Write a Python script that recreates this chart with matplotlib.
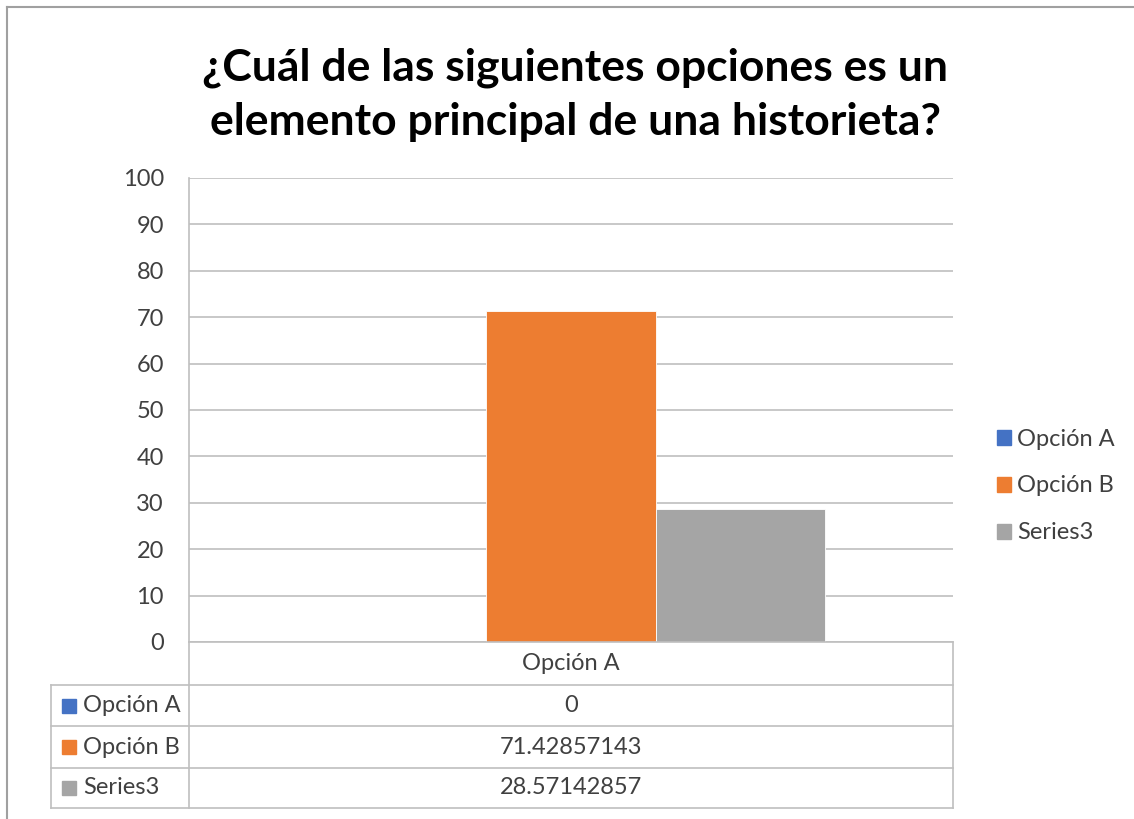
import matplotlib.pyplot as plt
from matplotlib.patches import Patch
import numpy as np

plt.rcParams['font.family'] = ['Lato', 'DejaVu Sans']

# datos del grafico
titulo = "¿Cuál de las siguientes opciones es un\nelemento principal de una historieta?"
categorias = ["Opción A"]
series = ["Opción A", "Opción B", "Series3"]
valores = [[0], [71.42857143], [28.57142857]]
colores = ["#4472C4", "#ED7D31", "#A5A5A5"]
yticks = [0, 10, 20, 30, 40, 50, 60, 70, 80, 90, 100]

W, H = 1134, 819
fig = plt.figure(figsize=(W / 100, H / 100), dpi=100)

def fx(px):
    return px / W

def fy(py):
    return 1 - py / H

ax = fig.add_axes([fx(189), fy(642), fx(953) - fx(189), fy(178) - fy(642)])

x = np.arange(len(categorias))
bw = 1 / 4.52
for i, s in enumerate(series):
    ax.bar(x + (i - 1) * bw, valores[i], bw, color=colores[i],
           edgecolor='white', linewidth=0.6, label=s, zorder=3)

ax.set_xlim(-0.5, len(categorias) - 0.5)
ax.set_ylim(0, 100)
ax.set_yticks(yticks)
ax.set_xticks([])
ax.grid(axis='y', color='#bfbfbf', linewidth=1.2, zorder=0)
for side in ['top', 'right', 'bottom']:
    ax.spines[side].set_visible(False)
ax.spines['left'].set_color('#bfbfbf')
ax.spines['left'].set_linewidth(1.2)
ax.tick_params(axis='y', length=0, pad=18, labelsize=17, labelcolor='#404040')

# tabla de datos debajo del eje
lc = '#bfbfbf'
lw = 1.2
def hline(y, x0, x1):
    fig.add_artist(plt.Line2D([fx(x0), fx(x1)], [fy(y), fy(y)], color=lc, lw=lw))

def vline(x0, y0, y1):
    fig.add_artist(plt.Line2D([fx(x0), fx(x0)], [fy(y0), fy(y1)], color=lc, lw=lw))

filas = [642, 685, 726, 768, 808]
hline(642, 189, 953)
for y in filas[1:]:
    hline(y, 51, 953)
vline(189, 642, 808)
vline(953, 642, 808)
vline(51, 685, 808)

fig.text(fx(571), fy(664), categorias[0], ha='center', va='center',
         fontsize=17, color='#404040')
for i, s in enumerate(series):
    yc = (filas[i + 1] + filas[i + 2]) / 2
    fig.add_artist(plt.Rectangle((fx(62), fy(yc + 7)), fx(14), fy(0) - fy(14),
                                 color=colores[i]))
    fig.text(fx(83), fy(yc), s, ha='left', va='center', fontsize=17, color='#404040')
    fig.text(fx(571), fy(yc), f"{valores[i][0]:.10g}", ha='center', va='center',
             fontsize=17, color='#404040')

# leyenda
handles = [Patch(color=c, label=s) for c, s in zip(colores, series)]
fig.legend(handles=handles, loc='center left', bbox_to_anchor=(fx(976), fy(486)),
           frameon=False, fontsize=17, labelspacing=1.1, handlelength=0.6,
           handleheight=0.6, handletextpad=0.25, labelcolor='#404040')

fig.text(fx(575), fy(95), titulo, ha='center', va='center', fontsize=32,
         fontweight='bold', color='black', linespacing=1.42)

# marco
fig.add_artist(plt.Line2D([fx(7), fx(W)], [fy(7), fy(7)], color='#a0a0a0', lw=1.5))
fig.add_artist(plt.Line2D([fx(7), fx(7)], [fy(7), fy(H)], color='#a0a0a0', lw=1.5))

fig.savefig('out.png', dpi=100, facecolor='white')
